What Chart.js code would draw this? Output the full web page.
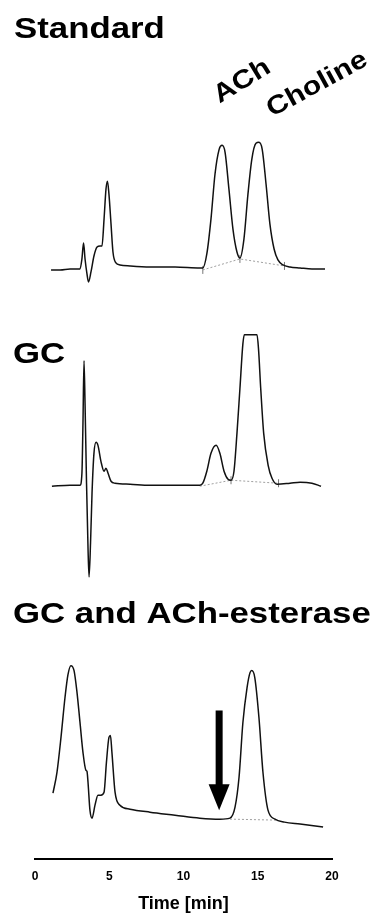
<!DOCTYPE html>
<html>
<head>
<meta charset="utf-8">
<script src="https://cdn.jsdelivr.net/npm/chart.js@4"></script>
<style>
  html, body { margin: 0; padding: 0; background: #fff; }
  #wrap { position: relative; width: 375px; height: 918px; }
</style>
</head>
<body>
<div id="wrap"><canvas id="chromChart"></canvas></div>
<script>
Chart.defaults.font.family = "'Liberation Sans', Arial, sans-serif";
Chart.defaults.color = "#000";

/* time axis */
const xTicks = [0, 5, 10, 15, 20];

/* Standard trace: time (min) and detector signal (arb. units above baseline) */
const stdTime   = [1.08, 1.7, 2.36, 3.03, 3.16, 3.27, 3.37, 3.5, 3.6, 3.77, 3.97, 4.18, 4.38, 4.51, 4.65, 4.78, 4.88, 4.98, 5.12, 5.25, 5.45, 5.72, 6.4, 7.74, 9.43, 11.1, 11.3, 11.57, 11.85, 12.12, 12.4, 12.6, 12.8, 13.06, 13.33, 13.6, 13.8, 14.07, 14.34, 14.6, 14.88, 15.08, 15.3, 15.56, 15.82, 16.1, 16.36, 16.7, 17.17, 17.85, 18.65, 19.53];
const stdSignal = [0, 0, 1, 1, 11, 27, 11, -4, -12, -2, 14, 23, 24, 24, 51, 81, 89, 76, 46, 18, 7, 5, 4, 3, 3, 2, 2, 16, 51, 96, 121, 125, 118, 81, 41, 18, 12, 31, 76, 111, 127, 128, 121, 86, 46, 21, 10, 5, 3, 2, 1, 1];
const stdBaseTime   = [11.3, 13.8, 16.8];
const stdBaseSignal = [0, 11, 4];

/* GC sample */
const gcTime   = [1.14, 2.36, 3.03, 3.16, 3.23, 3.3, 3.37, 3.47, 3.57, 3.64, 3.74, 3.84, 3.97, 4.11, 4.24, 4.44, 4.65, 4.78, 4.92, 5.12, 5.39, 6.4, 7.74, 9.43, 11.1, 11.3, 11.57, 11.85, 12.2, 12.45, 12.73, 13.0, 13.2, 13.4, 13.6, 13.8, 14.0, 14.1, 14.95, 15.05, 15.2, 15.4, 15.7, 15.96, 16.3, 17.17, 17.85, 18.65, 19.26];
const gcSignal = [0, 1, 1, 13, 63, 126, 83, 3, -62, -91, -57, -7, 33, 44, 41, 25, 15, 18, 13, 5, 3, 2, 1, 1, 1, 3, 15, 33, 41, 33, 15, 7, 6, 15, 53, 98, 143, 152, 152, 138, 98, 53, 21, 8, 2, 3, 4, 3, 0];
const gcBaseTime   = [11.1, 13.2, 16.4];
const gcBaseSignal = [0, 6, 3];

/* GC and ACh-esterase */
const aceTime   = [1.21, 1.48, 1.75, 2.02, 2.22, 2.42, 2.63, 2.83, 3.03, 3.23, 3.43, 3.5, 3.57, 3.7, 3.84, 4.04, 4.24, 4.44, 4.65, 4.81, 4.98, 5.08, 5.18, 5.39, 5.72, 6.4, 7.74, 9.43, 11.1, 12.46, 13.13, 13.47, 13.74, 14.0, 14.28, 14.48, 14.6, 14.8, 15.08, 15.35, 15.69, 16.16, 16.8, 17.85, 19.4];
const aceSignal = [39, 60, 95, 135, 158, 167, 162, 140, 110, 80, 62, 61, 50, 22, 14, 27, 37, 37, 40, 70, 95, 97, 80, 40, 27, 23, 20, 17, 14, 13, 14, 25, 55, 110, 145, 160, 162, 155, 115, 60, 22, 13, 10, 8, 5];
const aceBaseTime   = [13.13, 16.3];
const aceBaseSignal = [13, 12];

/* vertical stacking of the three runs */
const stdOffset = 591;
const gcOffset = 374;
const aceOffset = 27;

/* arrow at missing ACh peak */
const arrowTime = 12.4;
const arrowFrom = 122;
const arrowTo = 22;

const pts = (t, s, off) => t.map((v, i) => ({ x: v, y: s[i] + off }));

const trace = (data) => ({
    data: data,
    borderColor: '#111',
    borderWidth: 1.5,
    pointRadius: 0,
    cubicInterpolationMode: 'monotone',
    fill: false
});
const dotted = (data) => ({
    data: data,
    borderColor: '#888',
    borderWidth: 0.8,
    borderDash: [2, 2],
    pointRadius: 0,
    tension: 0,
    fill: false
});
const marks = (data) => ({
    data: data,
    showLine: false,
    pointStyle: 'line',
    rotation: 90,
    pointRadius: 4,
    borderColor: '#555',
    borderWidth: 0.8
});

/* titles and labels drawn on the canvas */
const labelsPlugin = {
    id: 'labels',
    afterDatasetsDraw(chart) {
        const ctx = chart.ctx;
        const xs = chart.scales.x, ys = chart.scales.y;
        const wide = (txt, x, y, size, rot) => {
            ctx.save();
            ctx.translate(x, y);
            if (rot) ctx.rotate(rot);
            ctx.scale(1.16, 1);
            ctx.font = "bold " + size + "px 'Liberation Sans', Arial, sans-serif";
            ctx.fillStyle = '#000';
            ctx.textAlign = rot ? 'center' : 'left';
            ctx.textBaseline = rot ? 'middle' : 'alphabetic';
            ctx.fillText(txt, 0, 0);
            ctx.restore();
        };
        wide('Standard', 14, 38, 30);
        wide('GC', 13, 363, 30);
        wide('GC and ACh-esterase', 13, 623, 30);
        wide('ACh', xs.getPixelForValue(13.95), ys.getPixelForValue(stdOffset + 189), 26, -0.55);
        wide('Choline', xs.getPixelForValue(19.0), ys.getPixelForValue(stdOffset + 186), 26, -0.5);

        // arrow
        const ax = xs.getPixelForValue(arrowTime);
        const y1 = ys.getPixelForValue(aceOffset + arrowFrom);
        const y2 = ys.getPixelForValue(aceOffset + arrowTo);
        ctx.save();
        ctx.fillStyle = '#000';
        ctx.fillRect(ax - 3.5, y1, 7, (y2 - y1) - 24);
        ctx.beginPath();
        ctx.moveTo(ax - 10.5, y2 - 26);
        ctx.lineTo(ax + 10.5, y2 - 26);
        ctx.lineTo(ax, y2);
        ctx.closePath();
        ctx.fill();
        ctx.restore();
    }
};

new Chart(document.getElementById("chromChart"), {
    type: 'line',
    data: {
        datasets: [
            trace(pts(stdTime, stdSignal, stdOffset)),
            dotted(pts(stdBaseTime, stdBaseSignal, stdOffset)),
            marks(pts(stdBaseTime, stdBaseSignal, stdOffset)),
            trace(pts(gcTime, gcSignal, gcOffset)),
            dotted(pts(gcBaseTime, gcBaseSignal, gcOffset)),
            marks(pts(gcBaseTime.slice(1), gcBaseSignal.slice(1), gcOffset)),
            trace(pts(aceTime, aceSignal, aceOffset)),
            dotted(pts(aceBaseTime, aceBaseSignal, aceOffset))
        ]
    },
    options: {
        responsive: true,
        maintainAspectRatio: false,
        animation: false,
        layout: { padding: { left: 35, right: 43, top: 0, bottom: 3 } },
        plugins: { legend: { display: false }, tooltip: { enabled: false } },
        scales: {
            x: {
                type: 'linear',
                min: 0,
                max: 20,
                afterBuildTicks: (scale) => { scale.ticks = xTicks.map(v => ({ value: v })); },
                grid: { display: false, drawTicks: false },
                border: { display: true, color: '#000', width: 2 },
                ticks: { font: { size: 12, weight: 'bold' }, color: '#000', padding: 10 },
                title: {
                    display: true,
                    text: 'Time [min]',
                    font: { size: 18, weight: 'bold' },
                    color: '#000',
                    padding: { top: 0, bottom: 0 }
                }
            },
            y: { display: false, min: 0, max: 857 }
        }
    },
    plugins: [labelsPlugin]
});
</script>
</body>
</html>
